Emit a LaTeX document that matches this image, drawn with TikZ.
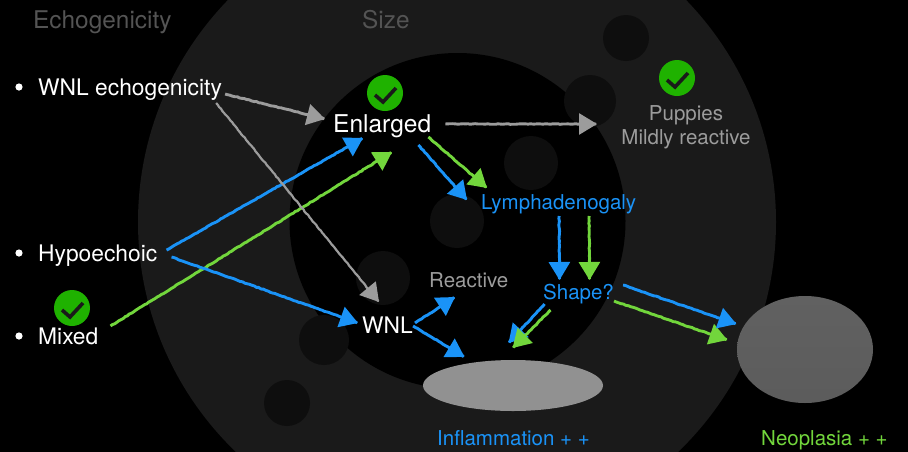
\documentclass[tikz,border=0pt]{standalone}
\usepackage{fontspec}
\setmainfont{TeX Gyre Heros}
\usetikzlibrary{arrows.meta,decorations.pathmorphing}
\definecolor{ringgray}{HTML}{1A1A1A}
\definecolor{spotgray}{HTML}{0E0E0E}
\definecolor{okgreen}{HTML}{1FB200}
\definecolor{chalkblue}{HTML}{1A93F7}
\definecolor{chalkgreen}{HTML}{72D63C}
\definecolor{chalkgray}{HTML}{9C9C9C}
\tikzset{
	chalk/.style={line width=2.9pt, -{Triangle[length=18pt,width=21pt]}, decorate, decoration={random steps, segment length=2.5pt, amplitude=0.35pt, post length=1pt}},
	bluearrow/.style={chalk, draw=chalkblue},
	greenarrow/.style={chalk, draw=chalkgreen},
	grayarrow/.style={chalk, draw=chalkgray},
	bigtext/.style={anchor=base west, text=white, font=\fontsize{22.8}{27}\selectfont, inner sep=0pt},
	headtext/.style={anchor=base west, text=white!33!black, font=\fontsize{24.4}{27}\selectfont, inner sep=0pt},
	smalltext/.style={anchor=base west, font=\fontsize{20.5}{24}\selectfont, inner sep=0pt},
	okmark/.pic={
		\fill[okgreen] (0,0) circle (18);
		\draw[ringgray, line width=3.6pt] (-10,2)--(-2,9)--(11,-5);
	}
}
\begin{document}
\begin{tikzpicture}[x=1pt, y=-1pt, line cap=butt, line join=miter]
	\useasboundingbox (0,0) rectangle (908,451);
	\clip (0,0) rectangle (908,451);
	\fill[black] (-2,-2) rectangle (910,453);
	% rings and spots
	\fill[ringgray] (457,222) circle (319);
	\fill[black] (457.5,221) circle (168);
	\foreach \sx/\sy/\sr in {626/38/23, 590/101/26, 531/163/27, 457/221/27, 383/278/27, 324/340/25, 287/403/23}
		\fill[spotgray] (\sx,\sy) circle (\sr);
	% ellipses
	\fill[black!43] (513,385.5) ellipse (90 and 25.5);
	\shade[top color=black!62, bottom color=black!64] (805,349.5) ellipse (68 and 53.5);
	% headings
	\node[headtext] (echo) at (33,28) {Echogenicity};
	\node[headtext] (size) at (362,28) {Size};
	% bullets
	\foreach \by in {87,253,336}
		\fill[white] (19,\by) circle (3.6);
	\node[bigtext] (wnlecho) at (38,95) {WNL echogenicity};
	\node[bigtext] (hypo) at (38,261) {Hypoechoic};
	\node[bigtext] (mixed) at (38,344) {Mixed};
	\node[bigtext, font=\fontsize{24.5}{28}\selectfont] (enlarged) at (333,132) {Enlarged};
	\node[bigtext] (wnl) at (362,333) {WNL};
	\node[smalltext, text=chalkgray] (reactive) at (429,287) {Reactive};
	\node[smalltext, text=chalkblue] (lymph) at (481,209) {Lymphadenogaly};
	\node[smalltext, text=chalkblue] (shape) at (543,299) {Shape?};
	\node[smalltext, text=chalkblue] (inflam) at (437,445) {Inflammation + +};
	\node[smalltext, text=chalkgreen] (neo) at (761,445) {Neoplasia + +};
	\node[smalltext, text=chalkgray, anchor=base] (puppies) at (686,120) {Puppies};
	\node[smalltext, text=chalkgray, anchor=base] (mildly) at (686,144) {Mildly reactive};
	% check marks
	\pic at (385,93) {okmark};
	\pic at (677,78) {okmark};
	\pic at (72,308) {okmark};
	% arrows
	\draw[greenarrow] ([shift={(12,-18)}]mixed.base east) -- ([shift={(59,20)}]enlarged.base west);
	\draw[bluearrow] ([shift={(9,-11)}]hypo.base east) -- ([shift={(30,6)}]enlarged.base west);
	\draw[bluearrow] ([shift={(14,-4)}]hypo.base east) -- ([shift={(-4,-10)}]wnl.base west);
	\draw[bluearrow] ([shift={(-13,13)}]enlarged.base east) -- ([shift={(-14,-9)}]lymph.base west);
	\draw[greenarrow] ([shift={(-3,5)}]enlarged.base east) -- ([shift={(6,-21)}]lymph.base west);
	\draw[bluearrow] ([shift={(0.5,7)}]lymph.base) -- ([shift={(-19,-19)}]shape.base);
	\draw[greenarrow] ([shift={(30.5,7)}]lymph.base) -- ([shift={(11,-19)}]shape.base);
	\draw[bluearrow] ([shift={(-34,5)}]shape.base) -- ([shift={(-5,-102)}]inflam.base);
	\draw[greenarrow] ([shift={(-28,11)}]shape.base) -- ([shift={(-1,-97)}]inflam.base);
	\draw[greenarrow] ([shift={(0,2)}]shape.base east) -- ([shift={(-97,-105)}]neo.base);
	\draw[bluearrow] ([shift={(9,-14)}]shape.base east) -- ([shift={(-88,-121)}]neo.base);
	\draw[bluearrow] ([shift={(2,-10)}]wnl.base east) -- ([shift={(26,10)}]reactive.base west);
	\draw[bluearrow] ([shift={(0,-7)}]wnl.base east) -- ([shift={(-49,-88)}]inflam.base);
	\draw[grayarrow] ([shift={(3,-1)}]wnlecho.base east) -- ([shift={(-8,-13)}]enlarged.base west);
	\draw[grayarrow, line width=2.2pt] ([shift={(-6,8)}]wnlecho.base east) -- ([shift={(17,-31)}]wnl.base west);
	\draw[grayarrow] ([shift={(14,-8)}]enlarged.base east) -- ([shift={(-89,4)}]puppies.base);
\end{tikzpicture}
\end{document}
